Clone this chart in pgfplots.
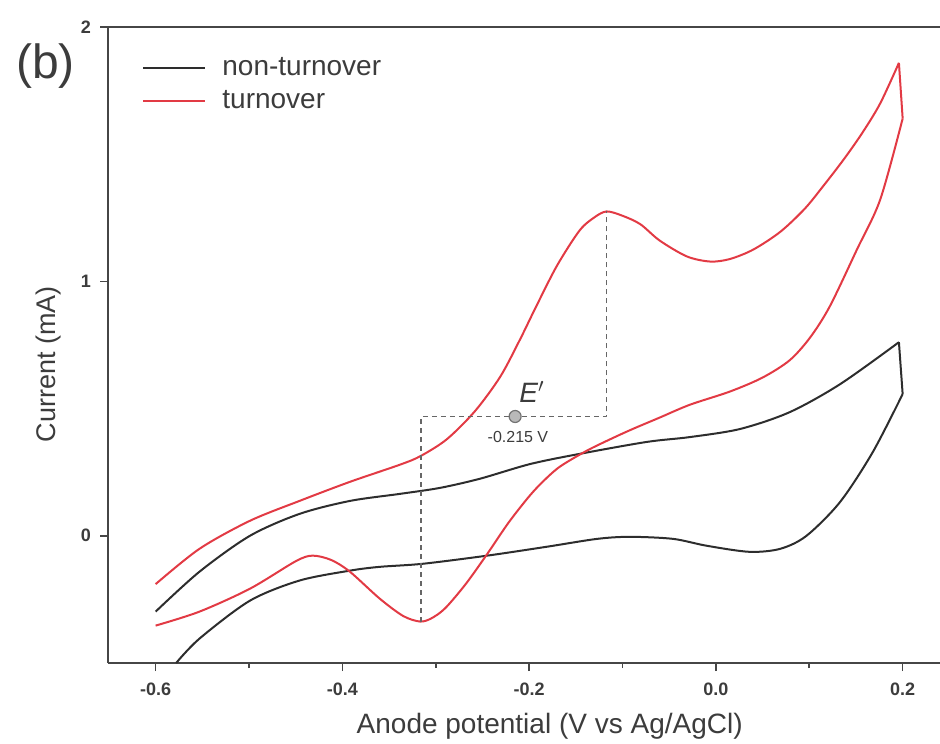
\documentclass[border=0pt]{standalone}
\usepackage{fontspec}
\setmainfont{Liberation Sans}
\usepackage{pgfplots}
\pgfplotsset{compat=1.18}
\definecolor{cvred}{RGB}{226,58,68}
\definecolor{cvblack}{RGB}{45,45,45}
\definecolor{axgray}{RGB}{70,70,70}
\definecolor{txtgray}{RGB}{60,60,60}
\begin{document}
\begin{tikzpicture}
\useasboundingbox (0,0) rectangle (470pt,371.5pt);
\begin{axis}[
  at={(54pt,40pt)}, anchor=south west,
  scale only axis, width=416pt, height=318pt,
  xmin=-0.651, xmax=0.240, ymin=-0.5, ymax=2,
  axis x line*=box, axis y line*=left,
  axis line style={axgray, line width=1pt},
  every tick/.style={axgray, line width=0.8pt},
  tick align=outside,
  major tick length=4pt, minor tick length=2.5pt,
  xtick={-0.6,-0.4,-0.2,0,0.2}, minor x tick num=1,
  ytick={0,1,2},
  xtick pos=bottom, ytick pos=left,
  /pgf/number format/assume math mode=true,
  xticklabel style={/pgf/number format/.cd, fixed, fixed zerofill, precision=1, /tikz/yshift=-2.5pt},
  yticklabel style={xshift=-1pt},
  tick label style={font=\fontsize{9}{10}\selectfont\bfseries, text=txtgray},
  clip=false,
  legend style={at={(rel axis cs:0,1)}, anchor=north west, xshift=14pt, yshift=-11pt,
    draw=none, fill=none, font=\fontsize{14}{16}\selectfont, text=txtgray,
    row sep=2pt},
  legend cell align=left,
  legend image code/.code={\draw[#1] (0pt,0pt) -- (31pt,0pt); \path (37pt,0pt);},
  every axis plot/.append style={line join=round},
]
% non-turnover
\addplot[cvblack, line width=1pt, smooth] coordinates {
(-0.600,-0.298) (-0.553,-0.141) (-0.499,0.000) (-0.446,0.086) (-0.392,0.137) (-0.338,0.165)
(-0.296,0.188) (-0.253,0.224) (-0.199,0.282) (-0.146,0.322) (-0.074,0.369) (-0.028,0.388)
(0.026,0.420) (0.079,0.486) (0.133,0.596) (0.196,0.761)};
\addlegendentry{non-turnover}
\addplot[cvred, line width=1pt, smooth] coordinates {
(-0.600,-0.190) (-0.553,-0.051) (-0.499,0.059) (-0.446,0.137) (-0.392,0.212) (-0.338,0.280)
(-0.316,0.314) (-0.288,0.380) (-0.258,0.490) (-0.231,0.625) (-0.210,0.770) (-0.192,0.905)
(-0.170,1.063) (-0.146,1.200) (-0.130,1.252) (-0.117,1.275) (-0.100,1.258) (-0.081,1.225)
(-0.060,1.160) (-0.031,1.098) (-0.006,1.078) (0.015,1.088) (0.040,1.125) (0.069,1.195)
(0.095,1.285) (0.115,1.375) (0.137,1.480) (0.157,1.585) (0.176,1.700) (0.196,1.859)};
\addlegendentry{turnover}
\addplot[cvblack, line width=1pt, forget plot] coordinates {(0.196,0.761) (0.200,0.557)};
\addplot[cvblack, line width=1pt, smooth, forget plot] coordinates {
(0.200,0.557) (0.168,0.329) (0.133,0.133) (0.097,0.000) (0.069,-0.051) (0.036,-0.063)
(-0.010,-0.039) (-0.046,-0.012) (-0.092,-0.004) (-0.127,-0.012) (-0.181,-0.043) (-0.245,-0.078)
(-0.314,-0.110) (-0.360,-0.122) (-0.392,-0.137) (-0.446,-0.176) (-0.499,-0.255) (-0.553,-0.404)
(-0.578,-0.500)};
\addplot[cvred, line width=1pt, forget plot] coordinates {(0.196,1.859) (0.200,1.640)};
\addplot[cvred, line width=1pt, smooth, forget plot] coordinates {
(0.200,1.640) (0.176,1.322) (0.151,1.125) (0.122,0.902) (0.101,0.780) (0.079,0.690)
(0.050,0.622) (0.015,0.567) (-0.028,0.515) (-0.060,0.465) (-0.089,0.420) (-0.110,0.385)
(-0.138,0.335) (-0.167,0.272) (-0.185,0.214) (-0.200,0.155) (-0.222,0.052) (-0.245,-0.072)
(-0.268,-0.190) (-0.290,-0.285) (-0.305,-0.325) (-0.317,-0.337) (-0.335,-0.315) (-0.360,-0.247)
(-0.392,-0.141) (-0.412,-0.095) (-0.432,-0.078) (-0.450,-0.100) (-0.499,-0.208) (-0.553,-0.298)
(-0.600,-0.353)};
% E' construction
\addplot[gray!80!black, line width=0.7pt, dash pattern=on 2.5pt off 2pt, forget plot] coordinates {
(-0.316,-0.337) (-0.316,0.469) (-0.117,0.469) (-0.117,1.275)};
\addplot[only marks, mark=*, mark size=3pt, mark options={fill=gray!55, draw=gray!90!black, line width=0.6pt}, forget plot] coordinates {(-0.215,0.469)};
\node[font=\fontsize{14}{14}\selectfont, text=txtgray] at (axis cs:-0.197,0.565) {\itshape E$^{\prime}$};
\node[font=\fontsize{8}{9}\selectfont, text=txtgray] at (axis cs:-0.212,0.388) {-0.215 V};
% labels
\node[font=\fontsize{14}{15}\selectfont, text=txtgray] at (axis cs:-0.178,-0.748) {Anode potential (V vs Ag/AgCl)};
\node[font=\fontsize{13.5}{15}\selectfont, text=txtgray, rotate=90] at (axis cs:-0.715,0.675) {Current (mA)};
\node[font=\fontsize{24}{26}\selectfont, text=txtgray] at (axis cs:-0.718,1.848) {(b)};
\end{axis}
\end{tikzpicture}
\end{document}
